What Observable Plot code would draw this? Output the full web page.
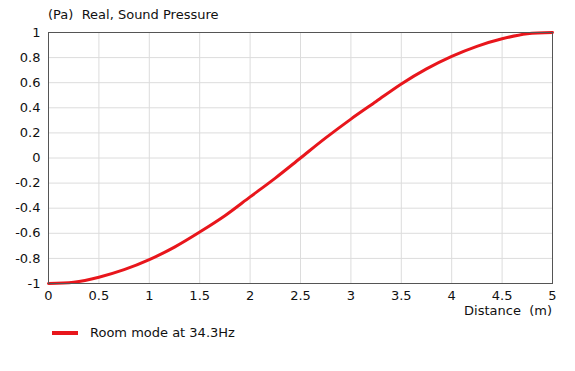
<!DOCTYPE html>
<html>
<head>
<meta charset="utf-8">
<script src="https://cdn.jsdelivr.net/npm/d3@7"></script>
<script src="https://cdn.jsdelivr.net/npm/@observablehq/plot@0.6"></script>
<style>
  html, body { margin: 0; padding: 0; background: #fff; }
  #wrap { position: relative; width: 575px; height: 371px; font-family: "DejaVu Sans", Verdana, sans-serif; font-size: 13px; color: #111; }
  .lbl { position: absolute; white-space: pre; line-height: 15px; }
  #legline { position: absolute; left: 52px; top: 331px; width: 26px; height: 4px; background: #e8161c; }
</style>
</head>
<body>
<div id="wrap">
  <div id="chart"></div>
  <div class="lbl" id="title" style="left:48px; top:7px;">(Pa)  Real, Sound Pressure</div>
  <div class="lbl" id="xlabel" style="right:23px; top:303px;">Distance  (m)</div>
  <div id="legline"></div>
  <div class="lbl" id="legtext" style="left:90px; top:325px;">Room mode at 34.3Hz</div>
</div>
<script>
const distance = [0, 0.25, 0.5, 0.75, 1, 1.25, 1.5, 1.75, 2, 2.25, 2.5, 2.75, 3, 3.25, 3.5, 3.75, 4, 4.25, 4.5, 4.75, 5];
const pressure = [-1, -0.99, -0.95, -0.89, -0.81, -0.71, -0.59, -0.46, -0.31, -0.16, 0, 0.16, 0.31, 0.45, 0.59, 0.71, 0.81, 0.89, 0.95, 0.99, 1];
const xTicks = [0, 0.5, 1, 1.5, 2, 2.5, 3, 3.5, 4, 4.5, 5];
const yTicks = [-1, -0.8, -0.6, -0.4, -0.2, 0, 0.2, 0.4, 0.6, 0.8, 1];
const seriesName = "Room mode at 34.3Hz";

const data = distance.map((d, i) => ({x: d, y: pressure[i]}));

const chart = Plot.plot({
  width: 575,
  height: 371,
  marginLeft: 48,
  marginRight: 23,
  marginTop: 32,
  marginBottom: 88,
  style: {fontFamily: "DejaVu Sans, Verdana, sans-serif", fontSize: "13px", color: "#111", background: "#fff"},
  x: {domain: [0, 5], ticks: xTicks, tickFormat: d => String(d), tickSize: 0, tickPadding: 7, label: null},
  y: {domain: [-1, 1], ticks: yTicks, tickFormat: d => String(d), tickSize: 0, tickPadding: 8, label: null},
  marks: [
    Plot.ruleX(xTicks, {stroke: "#dcdcdc", strokeWidth: 1}),
    Plot.ruleY(yTicks, {stroke: "#dcdcdc", strokeWidth: 1}),
    Plot.line(data, {x: "x", y: "y", stroke: "#e8161c", strokeWidth: 3, curve: "catmull-rom"}),
    Plot.frame({stroke: "#555", strokeWidth: 1})
  ]
});
document.getElementById("chart").appendChild(chart);
document.getElementById("legtext").textContent = seriesName;
</script>
</body>
</html>
